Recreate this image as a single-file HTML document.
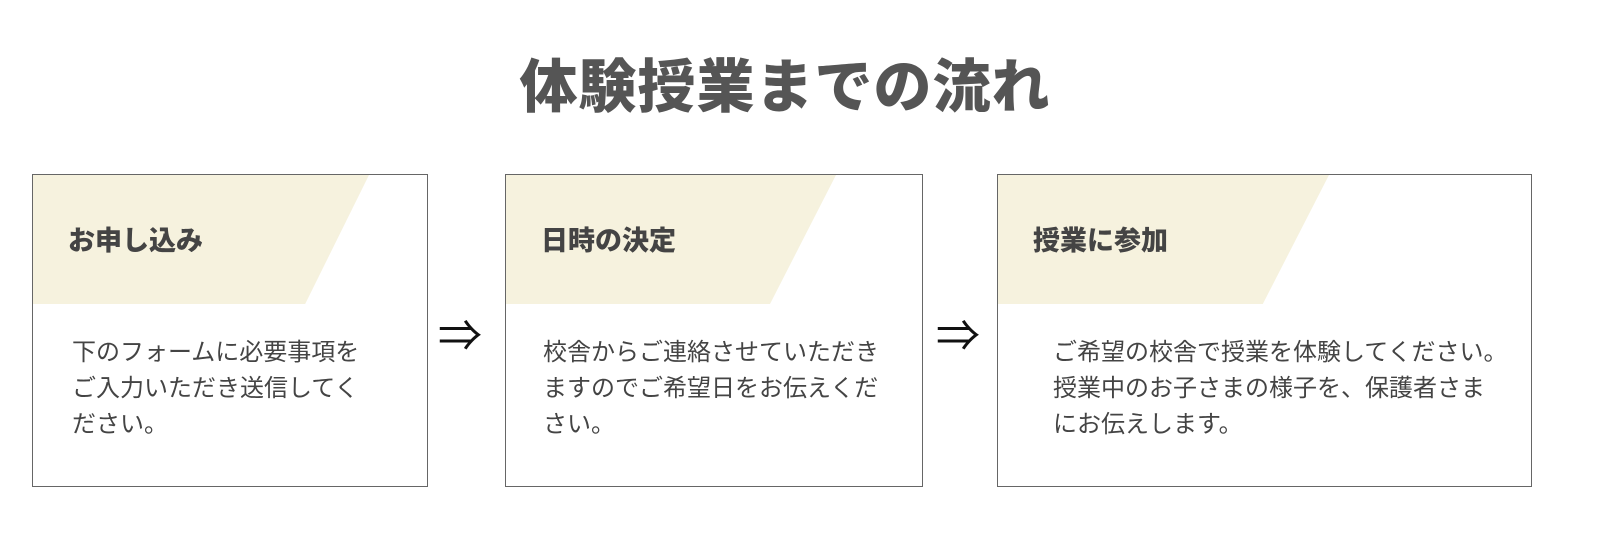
<!DOCTYPE html>
<html><head><meta charset="utf-8"><style>
body{margin:0;width:1600px;height:541px;background:#fff;position:relative;overflow:hidden;font-family:"Liberation Sans","Noto Sans CJK JP",sans-serif}
.t{position:absolute;left:0;width:1570px;top:40px;text-align:center;font-size:58px;font-weight:900;color:#555;letter-spacing:1px}
.b{position:absolute;top:174px;height:311px;border:1px solid #666;background:#fff;overflow:hidden}
.h{position:absolute;left:0;top:0;height:129px;background:#f6f2de}
.h span{position:absolute;left:35px;top:44px;font-size:27px;font-weight:900;color:#444}
.p{position:absolute;top:160px;font-size:24px;line-height:36px;color:#444;white-space:nowrap}
.a{position:absolute;top:300px;font-size:44px;color:#111}
</style></head><body>
<div class="t">体験授業までの流れ</div>
<div class="b" style="left:32px;width:394px"><div class="h" style="width:336px;clip-path:polygon(0 0,100% 0,81% 100%,0 100%)"><span>お申し込み</span></div>
<div class="p" style="left:39px">下のフォームに必要事項を<br>ご入力いただき送信してく<br>ださい。</div></div>
<div class="a" style="left:438px">⇒</div>
<div class="b" style="left:505px;width:416px"><div class="h" style="width:330px;clip-path:polygon(0 0,100% 0,80% 100%,0 100%)"><span>日時の決定</span></div>
<div class="p" style="left:37px">校舎からご連絡させていただき<br>ますのでご希望日をお伝えくだ<br>さい。</div></div>
<div class="a" style="left:936px">⇒</div>
<div class="b" style="left:997px;width:533px"><div class="h" style="width:331px;clip-path:polygon(0 0,100% 0,80% 100%,0 100%)"><span>授業に参加</span></div>
<div class="p" style="left:55px">ご希望の校舎で授業を体験してください。<br>授業中のお子さまの様子を、保護者さま<br>にお伝えします。</div></div>
</body></html>
